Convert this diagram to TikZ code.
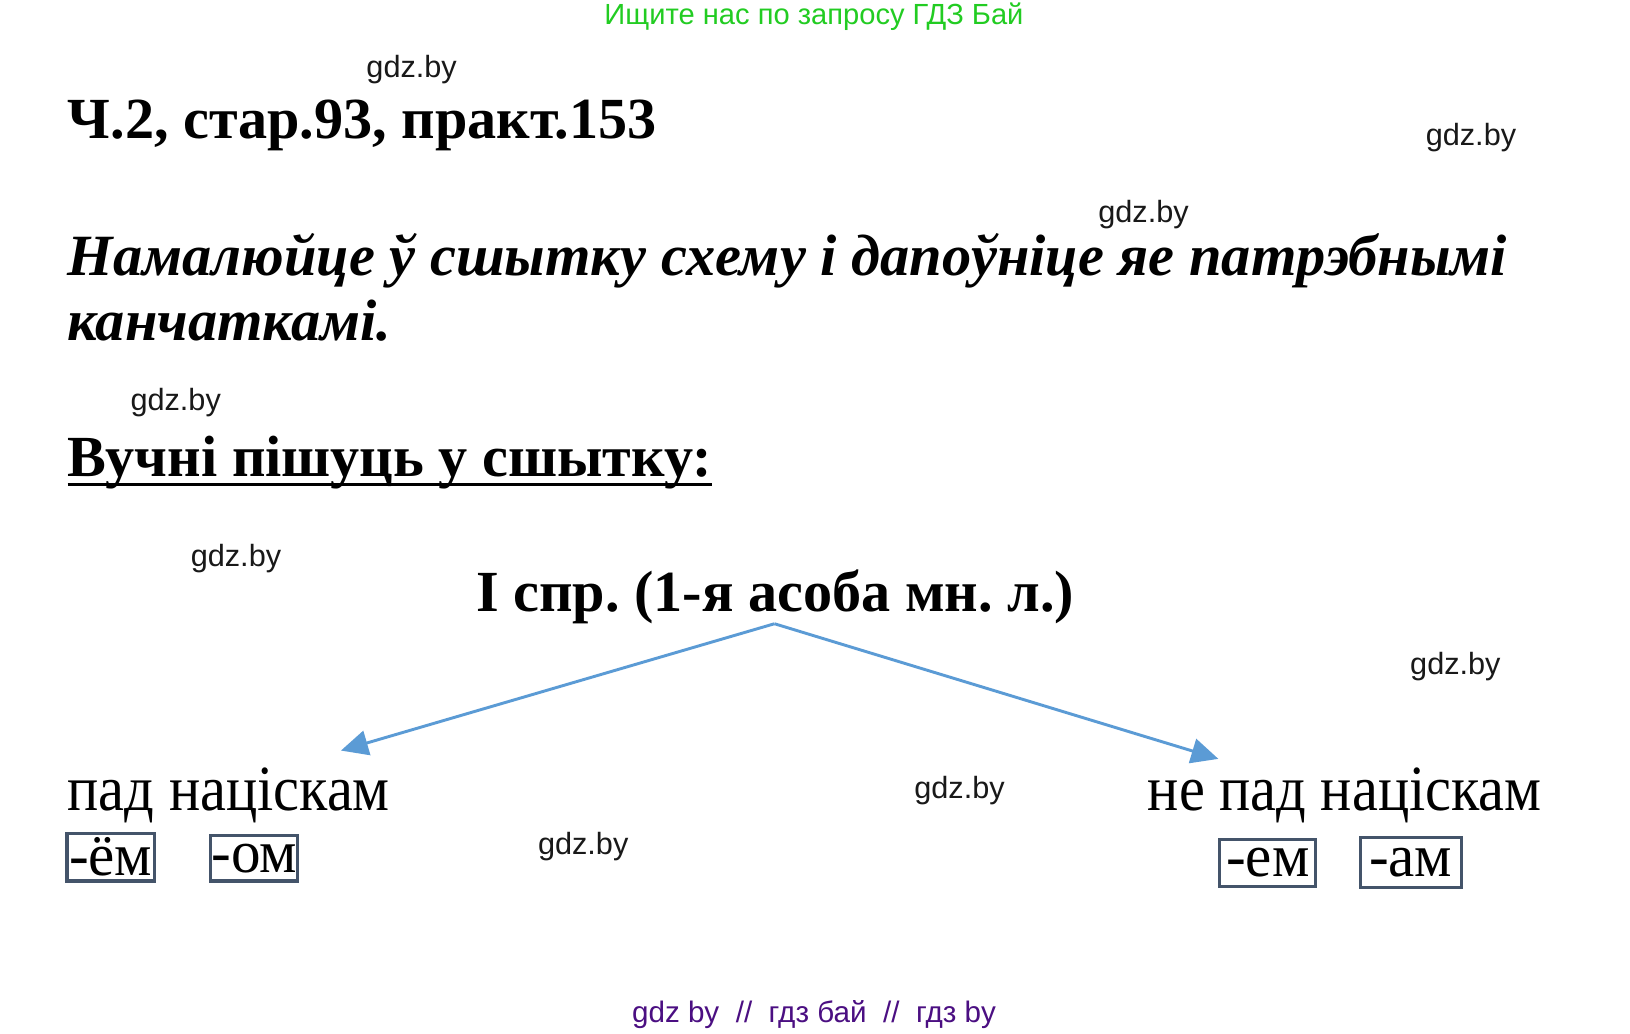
\documentclass[tikz,border=0pt]{standalone}
\usepackage{fontspec}
\setmainfont{Liberation Serif}
\newfontfamily\wmfont{Liberation Sans}
\usetikzlibrary{arrows.meta}
\definecolor{topgreen}{RGB}{34,204,34}
\definecolor{botpurple}{RGB}{75,15,130}
\definecolor{arrowblue}{RGB}{91,155,213}
\definecolor{boxgray}{RGB}{68,84,106}
\frenchspacing
\tikzset{
  wm/.style={font=\wmfont\fontsize{29.5}{32}\selectfont, text=black!90, inner sep=0, anchor=base},
  heading/.style={font=\bfseries\fontsize{56}{60}\selectfont, inner sep=0, anchor=base west},
  plain/.style={font=\fontsize{62}{68}\selectfont, inner sep=0, anchor=base west},
  endbox/.style={draw=boxgray, line width=3pt, inner sep=0, font=\fontsize{58}{62}\selectfont},
  link/.style={draw=arrowblue, line width=2.8pt, -{Triangle[length=26pt,width=24pt]}}
}
\begin{document}
\begin{tikzpicture}[x=1pt,y=-1pt]
\useasboundingbox (0,0) rectangle (1568,994);
\fill[white] (0,0) rectangle (1568,994);
\node[font=\wmfont\fontsize{28}{30}\selectfont, text=topgreen, inner sep=0, anchor=base] (topline) at (783,24) {Ищите нас по запросу ГДЗ Бай};
\node[heading] (title) at (65,133) {Ч.2, стар.93, практ.153};
\node[heading, font=\bfseries\itshape\fontsize{56.2}{60}\selectfont] (task1) at (65,265) {Намалюйце ў сшытку схему і дапоўніце яе патрэбнымі};
\node[heading, font=\bfseries\itshape\fontsize{56.2}{60}\selectfont] (task2) at (65,328) {канчаткамі.};
\node[heading] (pupils) at (65,458) {Вучні пішуць у сшытку:};
\draw[line width=3pt] ([yshift=-8pt]pupils.base west) -- ([yshift=-8pt]pupils.base east);
\node[heading] (head) at (458,588) {I спр. (1-я асоба мн. л.)};
\coordinate (fork) at (745,600);
\coordinate (ltip) at (328,722);
\coordinate (rtip) at (1172,730);
\draw[link] (fork) -- (ltip);
\draw[link] (fork) -- (rtip);
\node[plain] (stressed) at (65,780) {\scalebox{0.905}[1]{пад націскам}};
\node[plain] (unstressed) at (1104,780) {\scalebox{0.905}[1]{не пад націскам}};
\node[endbox, minimum width=84pt, minimum height=46pt] (yom) at (106.5,824.5) {\scalebox{0.98}[1]{-ём}};
\node[endbox, minimum width=84pt, minimum height=44pt] (om) at (244.5,825.5) {\scalebox{0.98}[1]{-ом}};
\node[endbox, minimum width=92pt, minimum height=45pt] (em) at (1219.5,830) {\scalebox{0.98}[1]{-ем}};
\node[endbox, minimum width=97pt, minimum height=48pt] (am) at (1357,829.5) {\scalebox{0.98}[1]{-ам}};
\node[wm] (w1) at (396,75) {gdz.by};
\node[wm] (w2) at (1415,140) {gdz.by};
\node[wm] (w3) at (1100,214) {gdz.by};
\node[wm] (w4) at (169,395) {gdz.by};
\node[wm] (w5) at (227,545) {gdz.by};
\node[wm] (w6) at (1400,649) {gdz.by};
\node[wm] (w7) at (923,768) {gdz.by};
\node[wm] (w8) at (561,822) {gdz.by};
\node[font=\wmfont\fontsize{28.5}{30}\selectfont, text=botpurple, inner sep=0, anchor=base] (bottomline) at (783,984) {gdz by\ \ //\ \ гдз бай\ \ //\ \ гдз by};
\end{tikzpicture}
\end{document}
